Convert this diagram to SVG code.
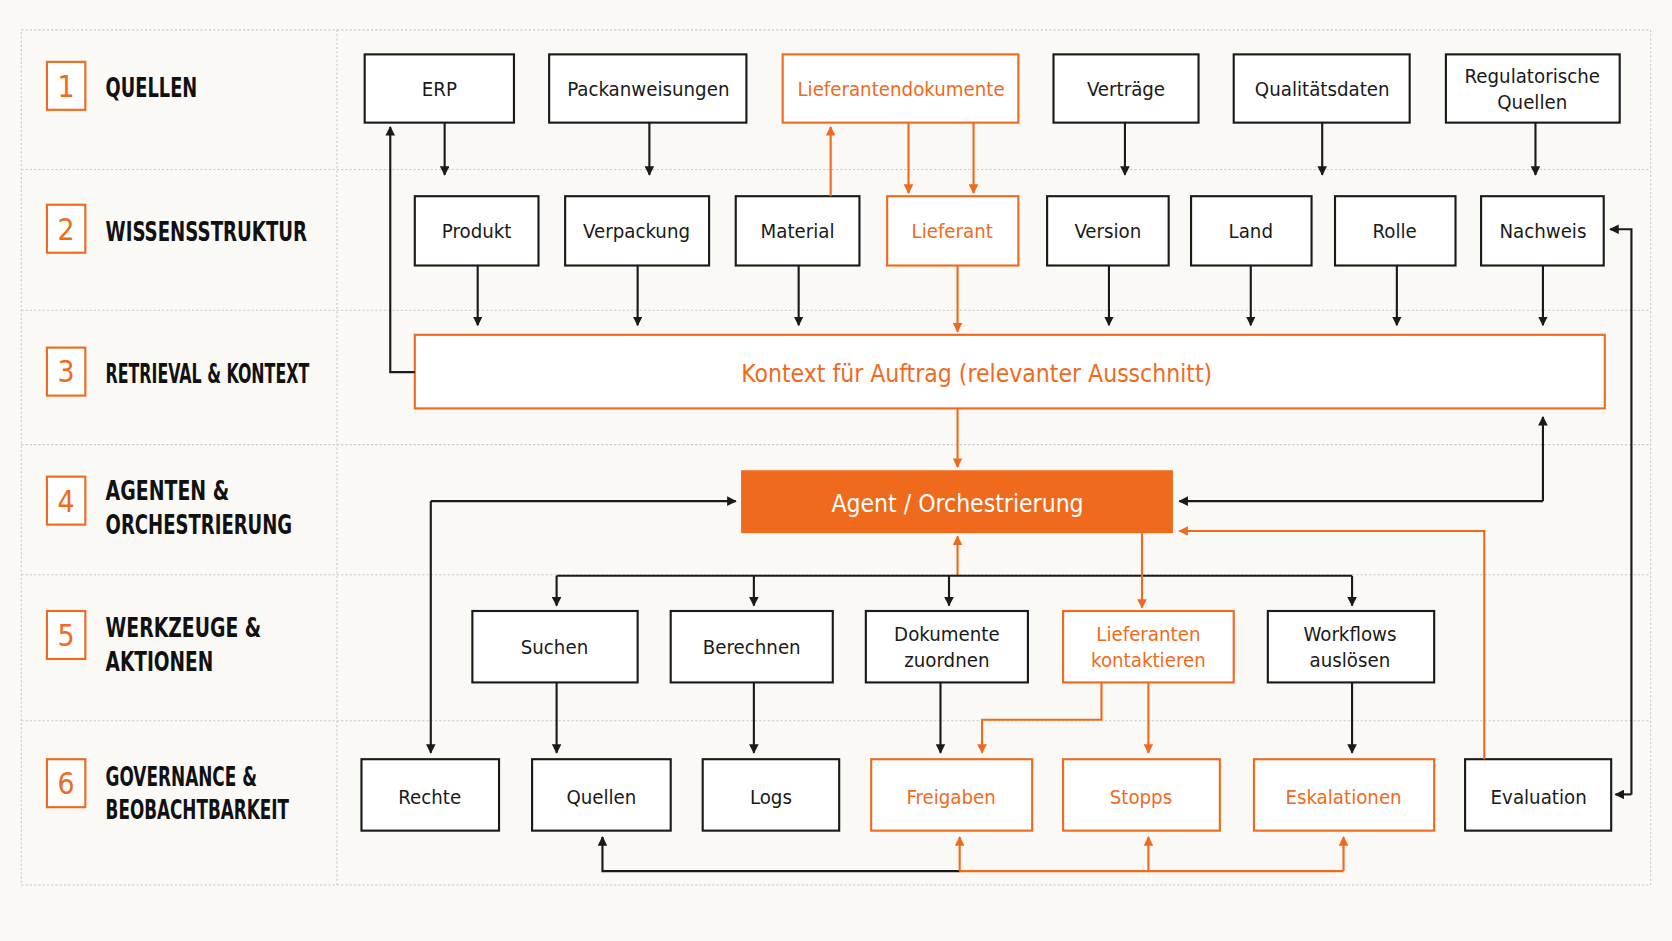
<svg xmlns="http://www.w3.org/2000/svg" width="1672" height="941" viewBox="0 0 1672 941">
<defs>
<marker id="ab" viewBox="0 0 10 10" refX="9" refY="5" markerWidth="9" markerHeight="9" markerUnits="userSpaceOnUse" orient="auto"><path d="M0,0L10,5L0,10z" fill="#1a1a1a"/></marker>
<marker id="ao" viewBox="0 0 10 10" refX="9" refY="5" markerWidth="9" markerHeight="9" markerUnits="userSpaceOnUse" orient="auto"><path d="M0,0L10,5L0,10z" fill="#f06a1d"/></marker>
</defs>
<style>
text{font-family:"DejaVu Sans Condensed","Liberation Sans",sans-serif;text-anchor:middle;dominant-baseline:central}
.b{fill:#fff;stroke:#1a1a1a;stroke-width:2}
.o{fill:#fff;stroke:#f06a1d;stroke-width:2}
.t{font-size:19px;fill:#1a1a1a}
.to{font-size:19px;fill:#f06a1d}
.lab{font-size:25px;font-weight:bold;fill:#111;text-anchor:start;dominant-baseline:auto}
.num{fill:#fff;stroke:#f06a1d;stroke-width:2}
.nt{font-size:28px;fill:#f06a1d}
.g{stroke:#c8c8c8;stroke-width:1;stroke-dasharray:2 2;fill:none}
.cb{fill:none;stroke:#1a1a1a;stroke-width:2}
.co{fill:none;stroke:#f06a1d;stroke-width:2}
</style>
<rect width="1672" height="941" fill="#faf9f6"/>
<g transform="scale(1.0663)">
<g id="grid">
<rect x="20" y="28" width="1528" height="802" class="g"/>
<path class="g" d="M316,28V830M20,159H1548M20,291H1548M20,417H1548M20,539H1548M20,676H1548"/>
</g>
<g id="lanes">
<rect class="num" x="44" y="58" width="36" height="45"/><text class="nt" x="62" y="81">1</text>
<text class="lab" x="99" y="91" textLength="86" lengthAdjust="spacingAndGlyphs">QUELLEN</text>
<rect class="num" x="44" y="192" width="36" height="45"/><text class="nt" x="62" y="215">2</text>
<text class="lab" x="99" y="226" textLength="189" lengthAdjust="spacingAndGlyphs">WISSENSSTRUKTUR</text>
<rect class="num" x="44" y="326" width="36" height="45"/><text class="nt" x="62" y="348">3</text>
<text class="lab" x="99" y="359" textLength="191" lengthAdjust="spacingAndGlyphs">RETRIEVAL &amp; KONTEXT</text>
<rect class="num" x="44" y="447" width="36" height="45"/><text class="nt" x="62" y="470">4</text>
<text class="lab" x="99" y="469" textLength="116" lengthAdjust="spacingAndGlyphs">AGENTEN  &amp;</text><text class="lab" x="99" y="501" textLength="175" lengthAdjust="spacingAndGlyphs">ORCHESTRIERUNG</text>
<rect class="num" x="44" y="573" width="36" height="45"/><text class="nt" x="62" y="596">5</text>
<text class="lab" x="99" y="597" textLength="146" lengthAdjust="spacingAndGlyphs">WERKZEUGE &amp;</text><text class="lab" x="99" y="629" textLength="101" lengthAdjust="spacingAndGlyphs">AKTIONEN</text>
<rect class="num" x="44" y="712" width="36" height="45"/><text class="nt" x="62" y="735">6</text>
<text class="lab" x="99" y="737" textLength="142" lengthAdjust="spacingAndGlyphs">GOVERNANCE &amp;</text><text class="lab" x="99" y="768" textLength="172" lengthAdjust="spacingAndGlyphs">BEOBACHTBARKEIT</text>
</g>
<g id="n-erp"><rect class="b" x="342" y="51" width="140" height="64"/><text class="t" x="412" y="83">ERP</text></g>
<g id="n-pack"><rect class="b" x="515" y="51" width="185" height="64"/><text class="t" x="608" y="83">Packanweisungen</text></g>
<g id="n-liefdok"><rect class="o" x="734" y="51" width="221" height="64"/><text class="to" x="845" y="83">Lieferantendokumente</text></g>
<g id="n-vertraege"><rect class="b" x="988" y="51" width="136" height="64"/><text class="t" x="1056" y="83">Verträge</text></g>
<g id="n-qual"><rect class="b" x="1157" y="51" width="165" height="64"/><text class="t" x="1240" y="83">Qualitätsdaten</text></g>
<g id="n-reg"><rect class="b" x="1356" y="51" width="163" height="64"/><text class="t" x="1437" y="71">Regulatorische</text><text class="t" x="1437" y="96">Quellen</text></g>
<g id="n-produkt"><rect class="b" x="389" y="184" width="116" height="65"/><text class="t" x="447" y="217">Produkt</text></g>
<g id="n-verp"><rect class="b" x="530" y="184" width="135" height="65"/><text class="t" x="597" y="217">Verpackung</text></g>
<g id="n-material"><rect class="b" x="690" y="184" width="116" height="65"/><text class="t" x="748" y="217">Material</text></g>
<g id="n-lieferant"><rect class="o" x="832" y="184" width="123" height="65"/><text class="to" x="893" y="217">Lieferant</text></g>
<g id="n-version"><rect class="b" x="982" y="184" width="114" height="65"/><text class="t" x="1039" y="217">Version</text></g>
<g id="n-land"><rect class="b" x="1117" y="184" width="113" height="65"/><text class="t" x="1173" y="217">Land</text></g>
<g id="n-rolle"><rect class="b" x="1252" y="184" width="113" height="65"/><text class="t" x="1308" y="217">Rolle</text></g>
<g id="n-nachweis"><rect class="b" x="1389" y="184" width="115" height="65"/><text class="t" x="1447" y="217">Nachweis</text></g>
<g id="n-kontext"><rect class="o" x="389" y="314" width="1116" height="69"/><text class="to" x="916" y="350" style="font-size:23px">Kontext für Auftrag (relevanter Ausschnitt)</text></g>
<g id="n-agent"><rect x="695" y="441" width="405" height="59" fill="#f06a1d"/><text x="898" y="472" style="font-size:23px;fill:#fff">Agent / Orchestrierung</text></g>
<g id="n-suchen"><rect class="b" x="443" y="573" width="155" height="67"/><text class="t" x="520" y="607">Suchen</text></g>
<g id="n-berechnen"><rect class="b" x="629" y="573" width="152" height="67"/><text class="t" x="705" y="607">Berechnen</text></g>
<g id="n-dok"><rect class="b" x="812" y="573" width="152" height="67"/><text class="t" x="888" y="595">Dokumente</text><text class="t" x="888" y="619">zuordnen</text></g>
<g id="n-liefkon"><rect class="o" x="997" y="573" width="160" height="67"/><text class="to" x="1077" y="595">Lieferanten</text><text class="to" x="1077" y="619">kontaktieren</text></g>
<g id="n-workflows"><rect class="b" x="1189" y="573" width="156" height="67"/><text class="t" x="1266" y="595">Workflows</text><text class="t" x="1266" y="619">auslösen</text></g>
<g id="n-rechte"><rect class="b" x="339" y="712" width="129" height="67"/><text class="t" x="403" y="747">Rechte</text></g>
<g id="n-quellen"><rect class="b" x="499" y="712" width="130" height="67"/><text class="t" x="564" y="747">Quellen</text></g>
<g id="n-logs"><rect class="b" x="659" y="712" width="128" height="67"/><text class="t" x="723" y="747">Logs</text></g>
<g id="n-freigaben"><rect class="o" x="817" y="712" width="151" height="67"/><text class="to" x="892" y="747">Freigaben</text></g>
<g id="n-stopps"><rect class="o" x="997" y="712" width="147" height="67"/><text class="to" x="1070" y="747">Stopps</text></g>
<g id="n-eskal"><rect class="o" x="1176" y="712" width="169" height="67"/><text class="to" x="1260" y="747">Eskalationen</text></g>
<g id="n-eval"><rect class="b" x="1374" y="712" width="137" height="67"/><text class="t" x="1443" y="747">Evaluation</text></g>
<g id="connectors">
<path class="cb" marker-end="url(#ab)" d="M417,115V164"/>
<path class="cb" marker-end="url(#ab)" d="M609,115V164"/>
<path class="co" marker-end="url(#ao)" d="M852,115V181"/>
<path class="co" marker-end="url(#ao)" d="M913,115V181"/>
<path class="cb" marker-end="url(#ab)" d="M1055,115V164"/>
<path class="cb" marker-end="url(#ab)" d="M1240,115V164"/>
<path class="cb" marker-end="url(#ab)" d="M1440,115V164"/>
<path class="co" marker-end="url(#ao)" d="M779,184V119"/>
<path class="cb" marker-end="url(#ab)" d="M389,349H366V119"/>
<path class="cb" marker-end="url(#ab)" d="M448,249V305"/>
<path class="cb" marker-end="url(#ab)" d="M598,249V305"/>
<path class="cb" marker-end="url(#ab)" d="M749,249V305"/>
<path class="co" marker-end="url(#ao)" d="M898,249V311"/>
<path class="cb" marker-end="url(#ab)" d="M1040,249V305"/>
<path class="cb" marker-end="url(#ab)" d="M1173,249V305"/>
<path class="cb" marker-end="url(#ab)" d="M1310,249V305"/>
<path class="cb" marker-end="url(#ab)" d="M1447,249V305"/>
<path class="co" marker-end="url(#ao)" d="M898,383V438"/>
<path class="cb" marker-end="url(#ab)" d="M1447,470V391"/>
<path class="cb" marker-end="url(#ab)" d="M1447,470H1106"/>
<path class="cb" marker-end="url(#ab)" d="M404,470H690"/>
<path class="cb" marker-end="url(#ab)" d="M404,470V706"/>
<path class="co" marker-end="url(#ao)" d="M898,540V503"/>
<path class="cb" d="M522,540H1268"/>
<path class="cb" marker-end="url(#ab)" d="M522,540V568"/>
<path class="cb" marker-end="url(#ab)" d="M707,540V568"/>
<path class="cb" marker-end="url(#ab)" d="M890,540V568"/>
<path class="cb" marker-end="url(#ab)" d="M1268,540V568"/>
<path class="co" marker-end="url(#ao)" d="M1071,500V570"/>
<path class="co" marker-end="url(#ao)" d="M1392,712V498H1106"/>
<path class="cb" marker-end="url(#ab)" d="M1530,745H1515"/>
<path class="cb" marker-end="url(#ab)" d="M1530,745V215H1510"/>
<path class="cb" marker-end="url(#ab)" d="M522,640V706"/>
<path class="cb" marker-end="url(#ab)" d="M707,640V706"/>
<path class="cb" marker-end="url(#ab)" d="M882,640V706"/>
<path class="co" marker-end="url(#ao)" d="M1077,640V706"/>
<path class="co" marker-end="url(#ao)" d="M1033,640V675H921V706"/>
<path class="cb" marker-end="url(#ab)" d="M1268,640V706"/>
<path class="cb" marker-end="url(#ab)" d="M900,817H565V785"/>
<path class="co" d="M900,817H1260"/>
<path class="co" marker-end="url(#ao)" d="M900,817V785"/>
<path class="co" marker-end="url(#ao)" d="M1077,817V785"/>
<path class="co" marker-end="url(#ao)" d="M1260,817V785"/>
</g>
</g>
</svg>
